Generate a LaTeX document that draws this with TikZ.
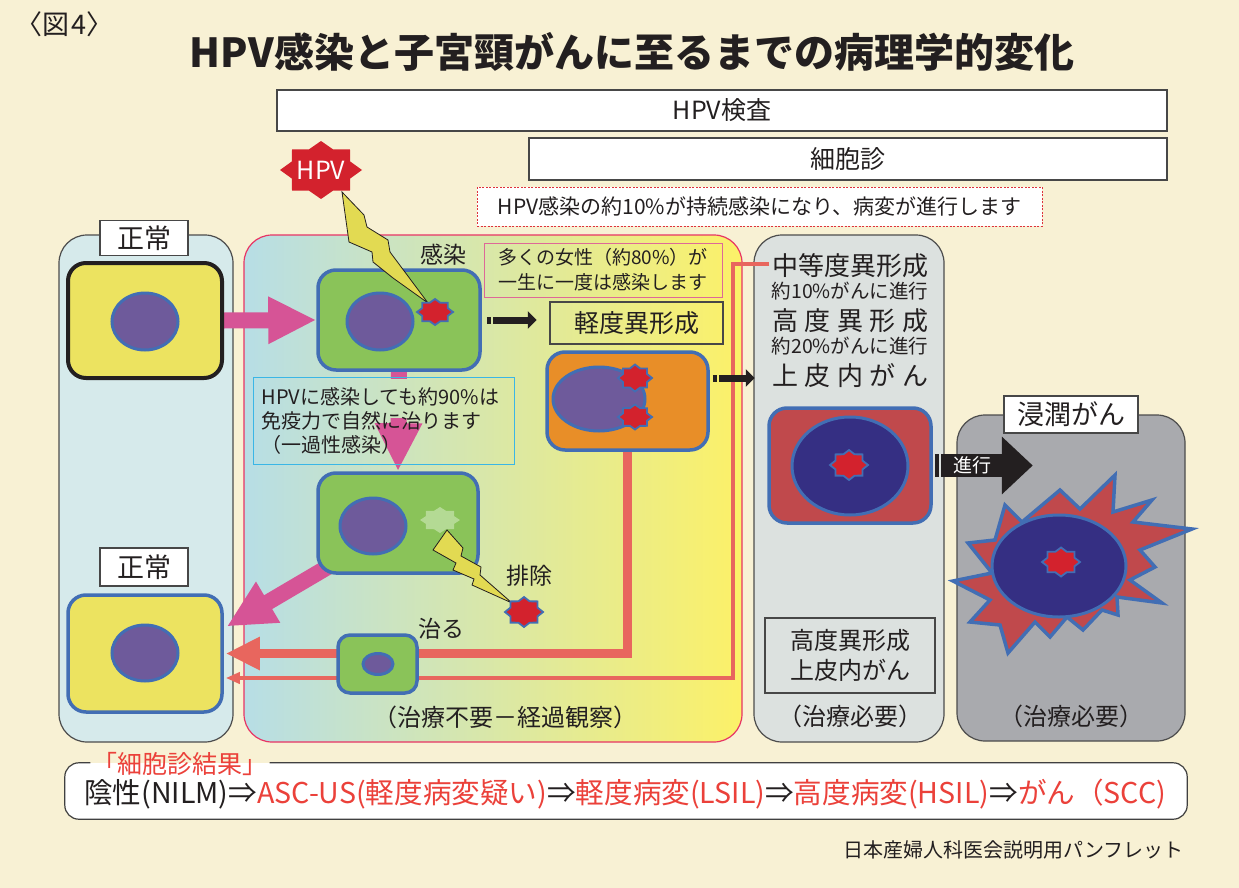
\documentclass[tikz,border=0pt]{standalone}
\usepackage{fontspec}
\setmainfont{Noto Sans CJK JP}
\usepackage{xcolor}
\usepackage{tikz}
\usetikzlibrary{arrows.meta}

\definecolor{bg}{RGB}{248,241,212}
\definecolor{ink}{RGB}{35,31,32}
\definecolor{cellyellow}{RGB}{236,227,96}
\definecolor{cellgreen}{RGB}{138,195,89}
\definecolor{cellorange}{RGB}{232,142,40}
\definecolor{cellred}{RGB}{192,73,76}
\definecolor{cellblue}{RGB}{66,110,180}
\definecolor{nucpurple}{RGB}{110,90,155}
\definecolor{nucnavy}{RGB}{53,47,131}
\definecolor{virusred}{RGB}{211,34,45}
\definecolor{fadedgreen}{RGB}{180,218,148}
\definecolor{arrowpink}{RGB}{214,84,150}
\definecolor{healred}{RGB}{232,102,94}
\definecolor{normalbg}{RGB}{214,234,235}
\definecolor{highbg}{RGB}{220,225,223}
\definecolor{cancerbg}{RGB}{169,170,174}
\definecolor{gradleft}{RGB}{183,222,230}
\definecolor{gradright}{RGB}{252,241,104}
\definecolor{watchline}{RGB}{232,52,100}
\definecolor{notecyan}{RGB}{58,182,230}
\definecolor{notepink}{RGB}{222,104,152}
\definecolor{alertred}{RGB}{222,50,60}
\definecolor{boltyellow}{RGB}{226,218,82}
\definecolor{resred}{RGB}{235,65,58}

\newcommand{\fsz}[2]{\fontsize{#1}{#2}\selectfont}
\newcommand{\justline}[1]{\makebox[156pt][s]{#1}}

\pgfdeclarelayer{panels}
\pgfdeclarelayer{flows}
\pgfsetlayers{panels,flows,main}

\begin{document}
\begin{tikzpicture}[x=1pt,y=-1pt,
  txt/.style={text=ink, inner sep=0},
  tag/.style={draw=black!72, line width=1.1, fill=white, text=ink, inner sep=0},
  panel/.style={draw=black!70, line width=1.2, rounded corners=28, inner sep=0},
  cell/.style={draw=cellblue, line width=3.5, rounded corners=18, inner sep=0},
  nucleus/.style={draw=cellblue, line width=3, fill=nucpurple},
  pinkarrow/.style={draw=arrowpink, line width=16, -{Triangle[length=48pt,width=44pt]}},
  heal/.style={draw=healred, line width=9, -{Triangle[length=34pt,width=31pt]}},
  healthin/.style={draw=healred, line width=3.5, -{Triangle[length=14pt,width=11pt]}},
  push/.style={draw=ink, dash pattern=on 4pt off 2.5pt on 400pt},
  bolt/.style={fill=boltyellow, draw=ink, line width=0.8, line join=miter},
  virus/.pic={\path[pic actions] (90:1) \foreach \k in {0,...,7}{ -- (112.5+45*\k:0.77) -- (135+45*\k:1) } -- cycle;}
]
\useasboundingbox (0,0) rectangle (1239,888);

\begin{pgfonlayer}{panels}
\fill[bg] (0,0) rectangle (1239,888);
\node[panel, fill=normalbg, minimum width=174, minimum height=507] (panNormal) at (146,488.5) {};
\node[panel, draw=watchline, left color=gradleft, right color=gradright, minimum width=498, minimum height=507] (panWatch) at (493,488.5) {};
\node[panel, fill=highbg, minimum width=190, minimum height=507] (panHigh) at (849,488.5) {};
\node[panel, fill=cancerbg, minimum width=228, minimum height=326] (panCancer) at (1071,578) {};
\end{pgfonlayer}

% header
\node[txt, anchor=west, font=\fsz{27}{30}] (figNo) at (15,24) {〈図\kern2pt 4〉};
\node[txt, font=\fsz{40}{44}\bfseries] (title) at (632,52) {HPV感染と子宮頸がんに至るまでの病理学的変化};
\node[tag, minimum width=890, minimum height=41, font=\fsz{25}{28}] (testHpv) at (722,110.5) {HPV検査};
\node[tag, minimum width=638, minimum height=42, font=\fsz{25}{28}] (testCyto) at (848,159) {細胞診};
\node[tag, draw=alertred, line width=1, dash pattern=on 2pt off 1.5pt, minimum width=565, minimum height=39, font=\fsz{21}{24}] (persist) at (759.5,206.5) {HPV感染の約10\%が持続感染になり、病変が進行します};

% panel tags
\node[tag, minimum width=88, minimum height=35, font=\fsz{27}{30}] (tagNormal) at (144,238) {正常};
\node[tag, minimum width=88, minimum height=38, font=\fsz{27}{30}] (tagCured) at (144,567) {正常};
\node[tag, minimum width=134, minimum height=37, font=\fsz{27}{30}] (tagCancer) at (1071,414.5) {浸潤がん};

% cells
\node[cell, draw=ink, line width=4, fill=cellyellow, minimum width=154, minimum height=115] (cellNorm1) at (145,320.5) {};
\node[cell, fill=cellgreen, minimum width=162, minimum height=100] (cellInf) at (399,320) {};
\node[cell, fill=cellgreen, minimum width=160, minimum height=100] (cellClear) at (398,523) {};
\node[cell, fill=cellyellow, minimum width=154, minimum height=117] (cellNorm2) at (145,653.5) {};
\node[cell, fill=cellorange, minimum width=161, minimum height=98] (cellLow) at (627.5,401) {};
\node[cell, fill=cellred, minimum width=162, minimum height=115] (cellHigh) at (850,465.5) {};
\draw[nucleus] (145,321.5) ellipse (33 and 28.5);
\draw[nucleus] (380,321.5) ellipse (33 and 28.5);
\draw[nucleus] (373,526) ellipse (33 and 28);
\draw[nucleus] (145,653) ellipse (33 and 28);
\draw[nucleus] (599,399) ellipse (46 and 32);
\draw[nucleus, fill=nucnavy] (850,466) ellipse (58 and 49);

\begin{pgfonlayer}{flows}
\draw[heal] (cellLow.south) |- ([xshift=2]cellNorm2.east);
\draw[healthin] ([xshift=-2]panHigh.west |- 0,264) ++(18,0) -- (733,264) |- ([xshift=2]cellNorm2.east |- 0,678);
\draw[pinkarrow] (cellNorm1.east) -- (cellInf.west);
\draw[pinkarrow] (cellInf.south) -- (cellClear.north);
\draw[pinkarrow] ([shift={(12,-8)}]cellClear.south west) -- ([shift={(3,-27)}]cellNorm2.east);
\end{pgfonlayer}

% text rows of the note sit on the panel colour
\begin{scope}
\clip (254,379) rectangle (513,417);
\path[left color=gradleft, right color=gradright] (panWatch.north west) rectangle (panWatch.south east);
\end{scope}
\node[draw=notecyan, line width=1.2, anchor=north west, text width=245, minimum height=87, inner sep=8, align=left, text=ink, font=\fsz{20}{24}] (noteCure) at (253,377) {HPVに感染しても約90\%は\\免疫力で自然に治ります\\（一過性感染）};

\node[cell, fill=cellgreen, rounded corners=12, minimum width=79, minimum height=58] (cellTiny) at (377.5,664) {};
\draw[nucleus] (378,664) ellipse (15 and 10.5);

% cancer cell
\draw[fill=cellred, draw=cellblue, line width=3.5, line join=miter] (1005,505) -- (1022,522) -- (1060,490) -- (1080,509) -- (1115,475) -- (1113,512) -- (1152,500) -- (1133,522) -- (1192,529) -- (1140,550) -- (1155,567) -- (1130,580) -- (1162,603) -- (1117,597) -- (1118,615) -- (1102,610) -- (1083,630) -- (1067,617) -- (1050,637) -- (1035,622) -- (1008,653) -- (1000,625) -- (970,622) -- (990,600) -- (953,581) -- (992,573) -- (968,543) -- (995,540) -- cycle;
\draw[nucleus, fill=nucnavy] (1059,566) ellipse (67 and 51);

% virus particles and lightning
\pic[fill=virusred, xscale=41, yscale=29] at (321,170) {virus};
\node[txt, text=white, font=\fsz{25}{28}] (hpv) at (321,170) {HPV};
\draw[bolt] (342,192) -- (364,215) -- (367,227) -- (388,240) -- (390,252) -- (428,303) -- (393,278) -- (373,262) -- (372,252) -- (349,242) -- cycle;
\pic[fill=virusred, draw=cellblue, line width=1.8, xscale=18, yscale=13] at (435,312) {virus};
\pic[fill=fadedgreen, xscale=20, yscale=13] at (440,520) {virus};
\draw[bolt] (447,530) -- (463,548) -- (461,556) -- (481,567) -- (480,575) -- (512,603) -- (472,585) -- (474,579) -- (453,570) -- (456,563) -- (433,550) -- cycle;
\pic[fill=virusred, draw=cellblue, line width=1.8, xscale=19, yscale=15] at (524,612) {virus};
\pic[fill=virusred, draw=cellblue, line width=1.8, xscale=17, yscale=13.5] at (635,378) {virus};
\pic[fill=virusred, draw=cellblue, line width=1.8, xscale=17, yscale=12.5] at (635,417) {virus};
\pic[fill=virusred, draw=cellblue, line width=1.8, xscale=19, yscale=15] at (849,465) {virus};
\pic[fill=virusred, draw=cellblue, line width=1.8, xscale=19, yscale=14.5] at (1061,562) {virus};

% progression arrows
\draw[push, line width=7, -{Triangle[length=9pt,width=17pt]}] ([xshift=5]cellInf.east) -- ([xshift=55]cellInf.east);
\draw[push, line width=7, -{Triangle[length=9pt,width=17pt]}] ([shift={(3,-23)}]cellLow.east) -- ([shift={(45,-23)}]cellLow.east);
\draw[push, line width=23, -{Triangle[length=31pt,width=56pt]}] ([xshift=2]cellHigh.east) -- node[pos=0.38, txt, text=white, font=\fsz{19}{22}] (advance) {進行} ([xshift=100]cellHigh.east);

% labels
\node[txt, font=\fsz{23}{26}] (lblInfect) at (443,255) {感染};
\node[draw=notepink, line width=1, minimum width=238, minimum height=54, inner sep=0, align=center, text=ink, font=\fsz{19}{25}] (noteMany) at (603,270) {多くの女性（約80\%）が\\一生に一度は感染します};
\node[tag, fill=none, minimum width=173, minimum height=42, font=\fsz{25}{28}] (tagLow) at (636.5,323) {軽度異形成};
\node[txt, font=\fsz{23}{26}] (lblRemove) at (529,576) {排除};
\node[txt, font=\fsz{23}{26}] (lblHeal) at (441,629) {治る};
\node[txt, font=\fsz{24}{26}] (watchNote) at (505,717) {（治療不要－経過観察）};

\node[txt, font=\fsz{26}{28}] (txtMod) at (850,266) {\justline{中\hfill 等\hfill 度\hfill 異\hfill 形\hfill 成}};
\node[txt, font=\fsz{19.5}{22}] (rateMod) at (850,291) {約10\%がんに進行};
\node[txt, font=\fsz{26}{28}] (txtSev) at (850,321) {\justline{高\hfill 度\hfill 異\hfill 形\hfill 成}};
\node[txt, font=\fsz{19.5}{22}] (rateSev) at (850,346) {約20\%がんに進行};
\node[txt, font=\fsz{26}{28}] (txtCis) at (850,376) {\justline{上\hfill 皮\hfill 内\hfill が\hfill ん}};
\node[tag, fill=none, minimum width=170, minimum height=75, align=center, font=\fsz{24}{30}] (tagCis) at (850,655.5) {高度異形成\\上皮内がん};
\node[txt, font=\fsz{24}{26}] (needHigh) at (850,716) {（治療必要）};
\node[txt, font=\fsz{24}{26}] (needCancer) at (1071,716) {（治療必要）};

% results of cytology
\node[fill=white, rounded corners=14, minimum width=1122, minimum height=56, inner sep=0] (results) at (626,791) {};
\node[txt, text=resred, inner sep=2, font=\fsz{25}{28}] (resTitle) at (180,764) {「細胞診結果」};
\draw[black!75, line width=1.2, rounded corners=14] (resTitle.east |- results.north) -- (results.north east) -- (results.south east) -- (results.south west) -- (results.north west) -- (resTitle.west |- results.north);
\node[txt, anchor=west, font=\fsz{28.6}{32}] (resLine) at (84,794) {陰性(NILM)⇒\textcolor{resred}{ASC-US(軽度病変疑い)}⇒\textcolor{resred}{軽度病変(LSIL)}⇒\textcolor{resred}{高度病変(HSIL)}⇒\textcolor{resred}{がん（SCC)}};
\node[txt, anchor=east, font=\fsz{20}{24}] (credit) at (1184,850) {日本産婦人科医会説明用パンフレット};
\end{tikzpicture}
\end{document}
